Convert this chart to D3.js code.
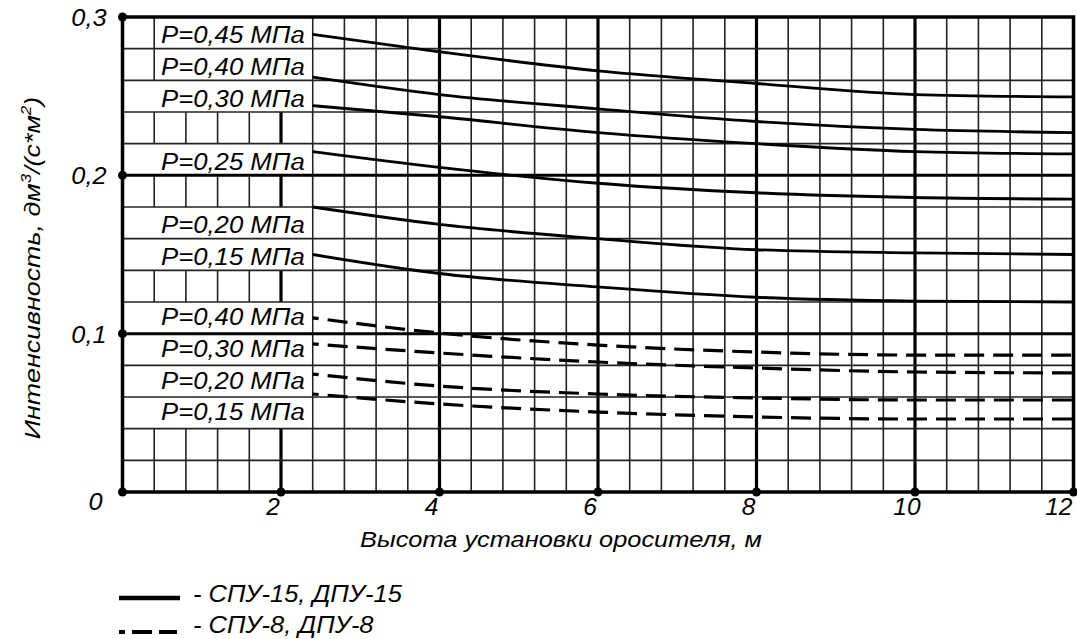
<!DOCTYPE html>
<html>
<head>
<meta charset="utf-8">
<script src="https://cdn.jsdelivr.net/npm/d3@7"></script>
<style>
  html, body { margin: 0; padding: 0; background: #fff; }
  svg { display: block; }
  text { font-family: "Liberation Sans", Arial, sans-serif; font-style: italic; fill: #000; }
</style>
</head>
<body>
<svg id="chart" width="1077" height="639"></svg>
<script>
// ---------- DATA ----------
const heights = [2.4, 4, 6, 8, 10, 12];          // высота установки, м

// СПУ-15, ДПУ-15 (solid)
const solidLabels = ["P=0,45 МПа", "P=0,40 МПа", "P=0,30 МПа", "P=0,25 МПа", "P=0,20 МПа", "P=0,15 МПа"];
const solidValues = [
  [0.289, 0.278, 0.266, 0.258, 0.251, 0.2495],
  [0.262, 0.251, 0.242, 0.234, 0.229, 0.227],
  [0.244, 0.237, 0.227, 0.220, 0.215, 0.2135],
  [0.215, 0.205, 0.195, 0.189, 0.186, 0.185],
  [0.180, 0.169, 0.160, 0.153, 0.151, 0.150],
  [0.150, 0.138, 0.1295, 0.123, 0.1206, 0.120]
];
const solidBands = [[0.28, 0.30], [0.26, 0.28], [0.24, 0.26], [0.20, 0.22], [0.16, 0.18], [0.14, 0.16]];
const solidBandStart = [0.4, 0.4, 0, 0, 0, 0];

// СПУ-8, ДПУ-8 (dashed)
const dashedLabels = ["P=0,40 МПа", "P=0,30 МПа", "P=0,20 МПа", "P=0,15 МПа"];
const dashedValues = [
  [0.110, 0.1004, 0.0928, 0.0884, 0.0865, 0.0865],
  [0.0935, 0.0878, 0.0821, 0.0783, 0.0758, 0.0752],
  [0.0745, 0.0669, 0.0619, 0.0594, 0.0581, 0.0581],
  [0.0619, 0.0556, 0.0505, 0.0474, 0.0461, 0.0461]
];
const dashedBands = [[0.10, 0.12], [0.08, 0.10], [0.06, 0.08], [0.04, 0.06]];
const dashedBandStart = [0, 0, 0, 0];

const xTicks = [2, 4, 6, 8, 10, 12];
const xTickLabels = ["2", "4", "6", "8", "10", "12"];
const yTicks = [0.1, 0.2, 0.3];
const yTickLabels = ["0,1", "0,2", "0,3"];
const xMinorStep = 0.4;
const yMinorStep = 0.02;

const xTitle = "Высота установки оросителя, м";
const legendLabels = ["- СПУ-15, ДПУ-15", "- СПУ-8, ДПУ-8"];

// ---------- CHART ----------
const svg = d3.select("#chart");
svg.append("rect").attr("width", 1077).attr("height", 639).attr("fill", "#fff");

const x = d3.scaleLinear().domain([0, 12]).range([122.5, 1073.5]);
const y = d3.scaleLinear().domain([0, 0.3]).range([492, 17]);

const near = (v, s) => Math.abs(v / s - Math.round(v / s)) < 1e-6;
const xMinor = d3.range(1, Math.round(12 / xMinorStep)).map(i => +(i * xMinorStep).toFixed(4)).filter(v => !near(v, 2));
const yMinor = d3.range(1, Math.round(0.3 / yMinorStep)).map(i => +(i * yMinorStep).toFixed(4)).filter(v => !near(v, 0.1));

const g = svg.append("g");

// vertical grid
g.selectAll(".vminor").data(xMinor).join("line")
  .attr("x1", d => x(d)).attr("x2", d => x(d))
  .attr("y1", y(0)).attr("y2", y(0.3))
  .attr("stroke", "#222").attr("stroke-width", 1.6);
g.selectAll(".vmajor").data(xTicks.slice(0, -1)).join("line")
  .attr("x1", d => x(d)).attr("x2", d => x(d))
  .attr("y1", y(0)).attr("y2", y(0.3))
  .attr("stroke", "#000").attr("stroke-width", 3.2);

// label boxes (white, hiding vertical grid)
const boxes = [];
solidBands.forEach((b, i) => boxes.push({ band: b, start: solidBandStart[i], text: solidLabels[i], off: 10.5 }));
dashedBands.forEach((b, i) => boxes.push({ band: b, start: dashedBandStart[i], text: dashedLabels[i], off: 7.5 }));

g.selectAll(".box").data(boxes).join("rect")
  .attr("x", d => x(d.start) + 1)
  .attr("width", d => x(2.4) - x(d.start) - 2)
  .attr("y", d => y(d.band[1]))
  .attr("height", d => y(d.band[0]) - y(d.band[1]))
  .attr("fill", "#fff");

// horizontal grid
g.selectAll(".hminor").data(yMinor).join("line")
  .attr("x1", x(0)).attr("x2", x(12))
  .attr("y1", d => y(d)).attr("y2", d => y(d))
  .attr("stroke", "#222").attr("stroke-width", 1.6);
g.selectAll(".hmajor").data(yTicks.slice(0, -1)).join("line")
  .attr("x1", x(0)).attr("x2", x(12))
  .attr("y1", d => y(d)).attr("y2", d => y(d))
  .attr("stroke", "#000").attr("stroke-width", 3);

// frame
g.append("rect")
  .attr("x", x(0)).attr("y", y(0.3))
  .attr("width", x(12) - x(0)).attr("height", y(0) - y(0.3))
  .attr("fill", "none").attr("stroke", "#000").attr("stroke-width", 3.5);

// curves
const line = d3.line().x((d, i) => x(heights[i])).y(d => y(d)).curve(d3.curveMonotoneX);
g.selectAll(".solid").data(solidValues).join("path")
  .attr("d", line).attr("fill", "none").attr("stroke", "#000").attr("stroke-width", 2.8);
g.selectAll(".dashed").data(dashedValues).join("path")
  .attr("d", line).attr("fill", "none").attr("stroke", "#000").attr("stroke-width", 3.2)
  .attr("stroke-dasharray", "20,9").attr("stroke-dashoffset", 14);

// label text (slightly wide lettering as in the reference)
g.selectAll(".lbl").data(boxes).join("text")
  .attr("transform", d => `translate(${x(2.4) - 8},${(y(d.band[0]) + y(d.band[1])) / 2 + d.off}) scale(1.05,1)`)
  .attr("text-anchor", "end")
  .attr("font-size", 24.5)
  .text(d => d.text);

// tick dots
const dots = yTicks.map(v => [0, v]).concat([[0, 0]]).concat(xTicks.map(v => [v, 0]));
g.selectAll(".dot").data(dots).join("circle")
  .attr("cx", d => x(d[0])).attr("cy", d => y(d[1])).attr("r", 4.5).attr("fill", "#000");

// y tick labels
g.selectAll(".ytl").data(yTicks).join("text")
  .attr("transform", d => `translate(${x(0) - 16},${y(d) + 9}) scale(1.1,1)`)
  .attr("text-anchor", "end").attr("font-size", 23)
  .text((d, i) => yTickLabels[i]);
g.append("text").attr("transform", `translate(${x(0) - 20},${y(0) + 18}) scale(1.1,1)`)
  .attr("text-anchor", "end").attr("font-size", 23).text("0");

// x tick labels
g.selectAll(".xtl").data(xTicks).join("text")
  .attr("x", (d, i) => i === xTicks.length - 1 ? x(d) - 1 : x(d) - 8)
  .attr("y", y(0) + 23)
  .attr("text-anchor", (d, i) => i === xTicks.length - 1 ? "end" : "middle")
  .attr("font-size", 24.5)
  .text((d, i) => xTickLabels[i]);

// axis titles
g.append("text").attr("transform", "translate(561,547) scale(1.18,1)")
  .attr("text-anchor", "middle").attr("font-size", 21.5).text(xTitle);

const yt = g.append("text")
  .attr("transform", "translate(40,268) rotate(-90) scale(1.22,1)")
  .attr("text-anchor", "middle").attr("font-size", 22);
yt.append("tspan").text("Интенсивность, дм");
yt.append("tspan").attr("font-size", 14).attr("dy", -9).text("3");
yt.append("tspan").attr("dy", 9).text("/(с*м");
yt.append("tspan").attr("font-size", 14).attr("dy", -9).text("2");
yt.append("tspan").attr("dy", 9).text(")");

// legend
const leg = g.append("g");
leg.append("line").attr("x1", 119).attr("x2", 180).attr("y1", 598).attr("y2", 598)
  .attr("stroke", "#000").attr("stroke-width", 4.5);
leg.append("line").attr("x1", 119).attr("x2", 180).attr("y1", 632).attr("y2", 632)
  .attr("stroke", "#000").attr("stroke-width", 4)
  .attr("stroke-dasharray", "6,7,20,7,18").attr("stroke-dashoffset", 0);
leg.selectAll(".lt").data(legendLabels).join("text")
  .attr("transform", (d, i) => `translate(193,${602 + i * 31}) scale(1.06,1)`)
  .attr("font-size", 24).text(d => d);
</script>
</body>
</html>
